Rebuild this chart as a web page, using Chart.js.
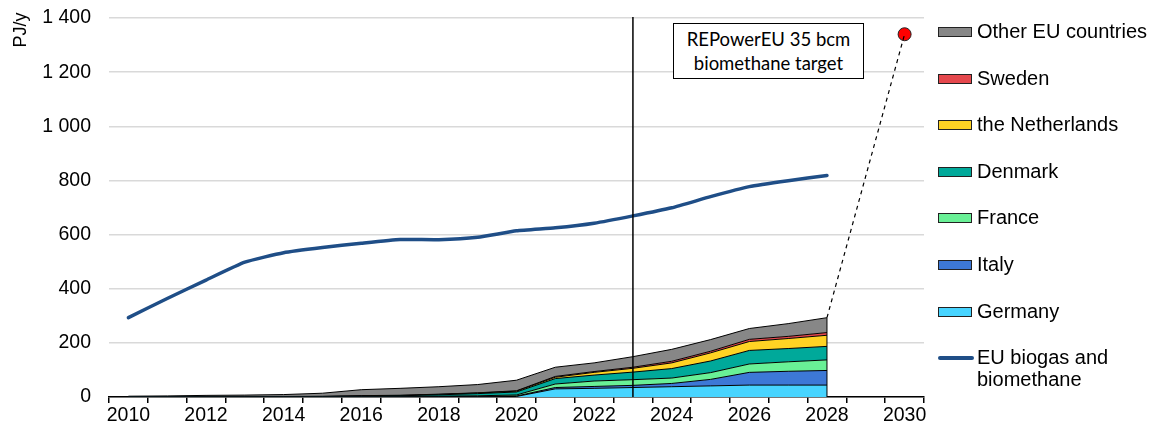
<!DOCTYPE html>
<html>
<head>
<meta charset="utf-8">
<script src="https://cdn.jsdelivr.net/npm/chart.js@4.4.1/dist/chart.umd.min.js"></script>
<style>
  body { margin: 0; background: #fff; font-family: 'Liberation Sans', Arial, sans-serif; }
  #wrap { position: relative; width: 1153px; height: 437px; }
  #unit {
    position: absolute; left: -10px; top: 20px; width: 60px; height: 20px;
    line-height: 20px; text-align: center; font-size: 18px; color: #000;
    transform: rotate(-90deg);
  }
  #note {
    position: absolute; left: 673px; top: 23px; width: 191px; height: 56px;
    box-sizing: border-box; border: 1.5px solid #000; background: #fff;
    font-family: Lato, 'Open Sans', sans-serif; font-size: 18.5px; line-height: 24px;
    text-align: center; padding-top: 3px; color: #000;
  }
  .item { position: absolute; left: 938px; font-size: 20px; color: #000; }
  .swatch { position: absolute; left: 0; width: 34px; height: 10px; box-sizing: border-box; border: 1.5px solid #222; }
  .stroke { position: absolute; left: 0; width: 36px; height: 3.5px; border-radius: 2px; }
  .label { position: absolute; left: 39px; white-space: nowrap; line-height: 22px; }
</style>
</head>
<body>
<div id="wrap">
  <canvas id="biogasChart" width="1153" height="437"></canvas>
  <div id="unit">PJ/y</div>
  <div id="note">REPowerEU 35 bcm<br>biomethane target</div>
  <div id="legend"></div>
</div>
<script>
// years on the category axis
const years = ['2010', '2011', '2012', '2013', '2014', '2015', '2016', '2017', '2018', '2019',
               '2020', '2021', '2022', '2023', '2024', '2025', '2026', '2027', '2028', '2029', '2030'];

// biomethane production by country, PJ/y, 2010-2028
const germany     = [0.5, 0.5, 0.5, 0.5, 0.5, 0.5, 0.5, 0.5, 1, 1, 2, 30, 32, 35, 38, 41, 44, 44, 44];
const italy       = [0, 0, 0, 0, 0, 0, 0, 0, 0.5, 1, 1.5, 5, 7, 8, 12, 24, 47, 51, 54];
const france      = [0, 0, 0, 0, 0, 0, 0.5, 1, 1.5, 2.5, 4, 13, 20, 21, 20, 25, 31, 35, 39];
const denmark     = [0, 0, 0, 0, 0.5, 1, 2, 3, 5, 8, 11, 20, 22, 28, 35, 43, 50, 49, 50];
const netherlands = [0.5, 0.5, 0.5, 0.5, 0.5, 0.5, 1, 1, 1.5, 2, 3, 5, 10, 14, 21, 30, 33, 37, 41];
const sweden      = [0.5, 0.5, 0.5, 0.5, 0.5, 0.5, 1, 1, 1, 1, 1.5, 3, 3, 4, 6, 6, 8, 8, 10];
const otherEU     = [1.5, 2.5, 4.5, 5.5, 7, 11.5, 22, 25.5, 27.5, 30.5, 39, 34, 32, 39, 44, 43, 40, 47, 55];

// total EU biogas and biomethane, PJ/y, 2010-2028
const euBiogas = [293, 364, 432, 498, 533, 552, 568, 582, 581, 590, 614, 625, 642, 669, 699, 740, 777, 799, 818];

const targetYear = '2030';
const targetValue = 1340;
const markerYear = '2023';

const countries = [
  { name: 'Germany', data: germany, color: '#47D4FF' },
  { name: 'Italy', data: italy, color: '#3D78D6' },
  { name: 'France', data: france, color: '#69F096' },
  { name: 'Denmark', data: denmark, color: '#00A99A' },
  { name: 'the Netherlands', data: netherlands, color: '#FFD324' },
  { name: 'Sweden', data: sweden, color: '#E5484D' },
  { name: 'Other EU countries', data: otherEU, color: '#878787' }
];
const lineColor = '#1F4E87';

const lastIdx = germany.length - 1;
const stackTop = countries.reduce((s, c) => s + c.data[lastIdx], 0);
const linkData = years.map((y, i) => i === lastIdx ? stackTop : (y === targetYear ? targetValue : null));
const targetData = years.map(y => y === targetYear ? targetValue : null);

const areaSets = countries.map((c, i) => ({
  label: c.name,
  data: c.data,
  stack: 'countries',
  backgroundColor: c.color,
  borderColor: '#000',
  borderWidth: 1,
  fill: i === 0 ? 'origin' : '-1',
  pointRadius: 0,
  tension: 0
}));

// vertical marker line and the closing edge of the stacked areas
const overlay = {
  id: 'overlay',
  afterDatasetsDraw(chart) {
    const { ctx, chartArea, scales } = chart;
    const x = scales.x.getPixelForValue(years.indexOf(markerYear));
    ctx.save();
    ctx.strokeStyle = '#000';
    ctx.lineWidth = 1.5;
    ctx.beginPath();
    ctx.moveTo(x, chartArea.top - 1);
    ctx.lineTo(x, chartArea.bottom);
    ctx.stroke();

    const top = chart.getDatasetMeta(countries.length - 1).data[lastIdx];
    ctx.lineWidth = 1;
    ctx.beginPath();
    ctx.moveTo(top.x, top.y);
    ctx.lineTo(top.x, scales.y.getPixelForValue(0));
    ctx.stroke();
    ctx.restore();
  }
};

const tickFont = { family: "'Liberation Sans', Arial, sans-serif", size: 19.5 };

new Chart(document.getElementById('biogasChart'), {
  type: 'line',
  data: {
    labels: years,
    datasets: [
      ...areaSets,
      {
        label: 'EU biogas and biomethane',
        data: euBiogas,
        stack: 'eu',
        borderColor: lineColor,
        borderWidth: 3.5,
        borderCapStyle: 'round',
        fill: false,
        pointRadius: 0,
        tension: 0.15
      },
      {
        label: 'link',
        data: linkData,
        stack: 'link',
        borderColor: '#000',
        borderWidth: 1.2,
        borderDash: [4, 4],
        spanGaps: true,
        fill: false,
        pointRadius: 0
      },
      {
        label: 'target',
        data: targetData,
        stack: 'target',
        showLine: false,
        pointRadius: 6.5,
        pointBackgroundColor: '#FF0000',
        pointBorderColor: '#222',
        pointBorderWidth: 1
      }
    ]
  },
  options: {
    responsive: false,
    animation: false,
    layout: { padding: { left: 0, right: 229, top: 18, bottom: 0 } },
    plugins: { legend: { display: false }, tooltip: { enabled: false } },
    scales: {
      x: {
        offset: true,
        grid: { offset: true, drawOnChartArea: false, color: '#000', lineWidth: 1.5, tickLength: 6 },
        border: { color: '#000', width: 1.5 },
        ticks: {
          autoSkip: false, maxRotation: 0, color: '#000', font: tickFont, padding: 1,
          callback(v, i) { return i % 2 === 0 ? this.getLabelForValue(v) : ''; }
        },
        afterFit(s) { s.height = 40; s.paddingLeft = 0; s.paddingRight = 0; }
      },
      y: {
        stacked: true,
        min: 0,
        max: 1400,
        grid: { color: '#D9D9D9', lineWidth: 1.5, drawTicks: false },
        border: { display: false },
        ticks: {
          stepSize: 200, padding: 18, color: '#000', font: tickFont,
          callback: v => String(v).replace(/\B(?=(\d{3})+(?!\d))/g, ' ')
        },
        afterFit(s) { s.width = 109; s.paddingTop = 0; s.paddingBottom = 0; }
      }
    }
  },
  plugins: [overlay]
});

// legend on the right, top entry first
const legend = document.getElementById('legend');
const rows = [...countries].reverse();
rows.forEach((c, i) => {
  const cy = 32 + i * 46.6;
  legend.insertAdjacentHTML('beforeend',
    `<div class="item" style="top:${cy}px">
       <div class="swatch" style="top:-5px;background:${c.color}"></div>
       <div class="label" style="top:-12px">${c.name}</div>
     </div>`);
});
legend.insertAdjacentHTML('beforeend',
  `<div class="item" style="top:358px">
     <div class="stroke" style="top:-2px;background:${lineColor}"></div>
     <div class="label" style="top:-12px">EU biogas and<br>biomethane</div>
   </div>`);
</script>
</body>
</html>
